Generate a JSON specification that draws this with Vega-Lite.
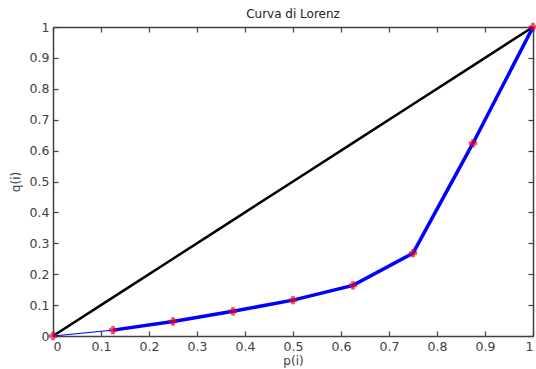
{
  "$schema": "https://vega.github.io/schema/vega-lite/v6.json",
  "width": 480,
  "height": 309,
  "autosize": {"type": "none"},
  "padding": {"left": 53, "top": 27, "right": 3, "bottom": 33},
  "background": "white",
  "title": {"text": "Curva di Lorenz", "fontSize": 12, "fontWeight": "normal", "font": "DejaVu Sans", "color": "#222222", "offset": -1},
  "config": {
    "view": {"stroke": null},
    "axis": {
      "domainColor": "#404040", "domainWidth": 1.5,
      "tickColor": "#404040", "tickWidth": 1.2, "tickSize": -5,
      "labelPadding": 9, "labelFont": "DejaVu Sans", "labelFontSize": 12.5, "labelColor": "#404040",
      "titleFont": "DejaVu Sans", "titleFontSize": 12, "titleFontWeight": "normal", "titleColor": "#404040",
      "grid": false
    }
  },
  "data": {"values": [
    {"p": 0, "q": 0},
    {"p": 0.125, "q": 0.019},
    {"p": 0.25, "q": 0.047},
    {"p": 0.375, "q": 0.08},
    {"p": 0.5, "q": 0.116},
    {"p": 0.625, "q": 0.164},
    {"p": 0.75, "q": 0.268},
    {"p": 0.875, "q": 0.624},
    {"p": 1, "q": 1}
  ]},
  "resolve": {"axis": {"x": "independent", "y": "independent"}},
  "layer": [
    {
      "mark": {"type": "line", "color": "black", "strokeWidth": 2.5},
      "encoding": {
        "x": {"field": "p", "type": "quantitative", "scale": {"domain": [0, 1], "nice": false},
              "axis": {"orient": "top", "title": null, "labels": false, "values": [0,0.1,0.2,0.3,0.4,0.5,0.6,0.7,0.8,0.9,1]}},
        "y": {"field": "p", "type": "quantitative", "scale": {"domain": [0, 1], "nice": false},
              "axis": {"orient": "right", "title": null, "labels": false, "values": [0,0.1,0.2,0.3,0.4,0.5,0.6,0.7,0.8,0.9,1]}}
      }
    },
    {
      "mark": {"type": "line", "color": "#0000ff", "strokeWidth": 1},
      "encoding": {
        "x": {"field": "p", "type": "quantitative",
              "axis": {"orient": "bottom", "title": "p(i)", "titlePadding": 3, "format": ".1~f", "values": [0,0.1,0.2,0.3,0.4,0.5,0.6,0.7,0.8,0.9,1]}},
        "y": {"field": "q", "type": "quantitative",
              "axis": {"orient": "left", "title": "q(i)", "titlePadding": 7, "format": ".1~f", "values": [0,0.1,0.2,0.3,0.4,0.5,0.6,0.7,0.8,0.9,1]}}
      }
    },
    {
      "transform": [{"filter": "datum.p >= 0.125"}],
      "mark": {"type": "line", "color": "#0000ff", "strokeWidth": 3.5},
      "encoding": {
        "x": {"field": "p", "type": "quantitative", "axis": null},
        "y": {"field": "q", "type": "quantitative", "axis": null}
      }
    },
    {
      "mark": {"type": "point", "shape": "cross", "filled": true, "color": "#ff0000", "size": 60, "stroke": "#a0008a", "strokeWidth": 0.6},
      "encoding": {
        "x": {"field": "p", "type": "quantitative", "axis": null},
        "y": {"field": "q", "type": "quantitative", "axis": null}
      }
    }
  ]
}
